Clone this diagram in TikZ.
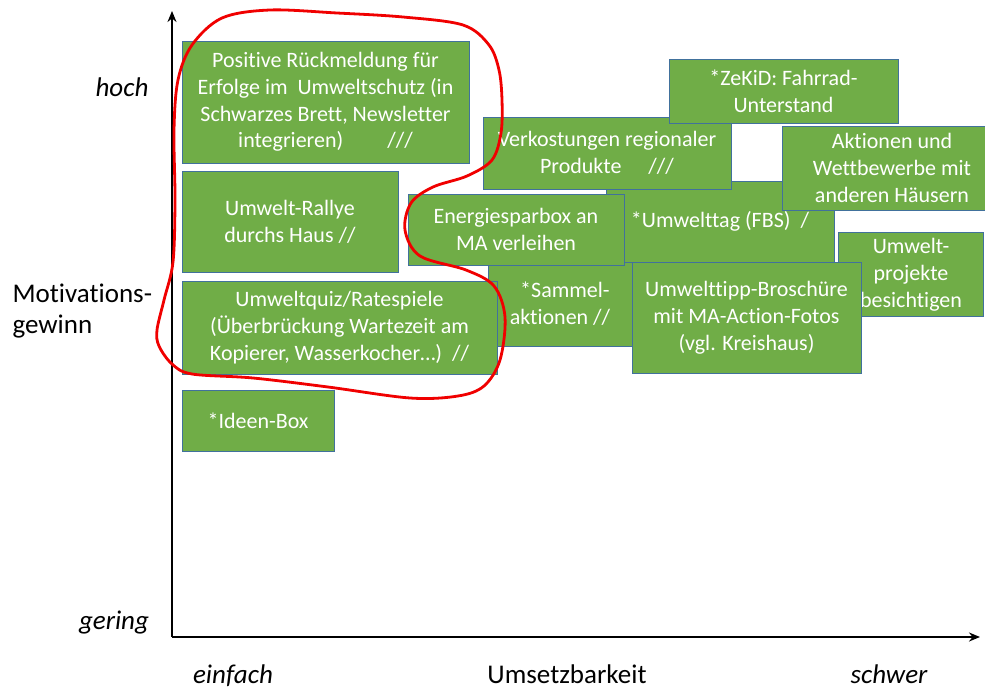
\documentclass[tikz,border=0pt]{standalone}
\usepackage{fontspec}
\setmainfont{Carlito}[Ligatures=CommonOff]
\usetikzlibrary{arrows.meta}
\definecolor{boxgreen}{HTML}{70AD47}
\definecolor{boxedge}{HTML}{41719C}
\definecolor{loopred}{HTML}{F00000}
\tikzset{
  gbox/.style={draw=boxedge, line width=0.9pt, fill=boxgreen, text=white, align=center,
    inner sep=0pt, outer sep=0pt, font=\fontsize{22}{26.8}\selectfont},
  axlabel/.style={text=black, font=\fontsize{27}{31}\selectfont\itshape},
  axtitle/.style={text=black, font=\fontsize{27}{31}\selectfont, align=left},
  bottomlabel/.style={inner sep=0pt, anchor=base},
  axisline/.style={line width=2.6pt, -{Stealth[length=11pt,width=9pt]}},
}
\begin{document}
\begin{tikzpicture}[x=1pt,y=-1pt]
\useasboundingbox (0,0) rectangle (985,690);
\clip (0,0) rectangle (985,690);
% axes
\coordinate (o) at (172,637);
\coordinate (ytop) at (172,11);
\coordinate (xend) at (980,637);
\draw[axisline] (o) -- (ytop);
\draw[axisline] (o) -- (xend);
% axis labels
\node[axlabel] (hoch) at (122,87) {hoch};
\node[axlabel] (gering) at (114,623) {gering};
\node[axlabel, bottomlabel] (einfach) at (233,683) {einfach};
\node[axlabel, bottomlabel] (schwer) at (889,683) {schwer};
\node[axtitle, anchor=west] (motiv) at (9,311) {Motivations-\\gewinn};
\node[axtitle, bottomlabel] (umsetz) at (567,683) {Umsetzbarkeit};
% boxes (bottom to top)
\node[gbox, minimum width=145pt, minimum height=84pt] (projekte) at (911,274.5) {Umwelt-\\projekte\\besichtigen};
\node[gbox, minimum width=228pt, minimum height=81pt] (umwelttag) at (720,221.5) {*Umwelttag (FBS)\ \ /};
\node[gbox, minimum width=144pt, minimum height=84pt] (sammel) at (560,304) {\ \ *Sammel-\\aktionen //};
\node[gbox, minimum width=248pt, minimum height=72pt] (verkost) at (607,153) {Verkostungen regionaler\\Produkte\quad\ ///};
\node[gbox, minimum width=229pt, minimum height=64pt] (zekid) at (783.5,91) {*ZeKiD: Fahrrad-\\Unterstand};
\node[gbox, minimum width=216pt, minimum height=71pt] (energie) at (516,229.5) {Energiesparbox an\\MA verleihen};
\node[gbox, minimum width=229pt, minimum height=111pt] (tipp) at (746.5,317.5) {Umwelttipp-Broschüre\\mit MA-Action-Fotos\\(vgl. Kreishaus)};
\node[gbox, minimum width=220pt, minimum height=84pt] (aktionen) at (892,168) {Aktionen und\\Wettbewerbe mit\\anderen Häusern};
\node[gbox, minimum width=287pt, minimum height=122pt] (positiv) at (325.5,102) {Positive Rückmeldung für\\Erfolge im \ Umweltschutz (in\\Schwarzes Brett, Newsletter\\integrieren)\qquad ///};
\node[gbox, minimum width=216pt, minimum height=101pt] (rallye) at (290,221.5) {Umwelt-Rallye\\durchs Haus //};
\node[gbox, minimum width=315pt, minimum height=93pt] (quiz) at (339.5,327.5) {Umweltquiz/Ratespiele\\(Überbrückung Wartezeit am\\Kopierer, Wasserkocher…)\ \ //};
\node[gbox, minimum width=152pt, minimum height=61pt] (ideen) at (258,420.5) {*Ideen-Box};
% red freehand loop
\draw[loopred, line width=2.8pt, line join=round] plot[smooth cycle, tension=0.55] coordinates {
 (270,10) (337,13) (403,17) (463,25) (489,45) (499,70) (502,100) (501,133)
 (492,160) (467,176) (433,187) (411,203) (405,230) (420,256) (466,270) (494,286)
 (505,317) (500,360) (484,386) (458,396) (410,398) (328,387) (253,378) (192,374)
 (172,364) (159,346) (157,330) (164,300) (173,262) (175,200) (174,130) (178,80)
 (192,45) (222,18)};
\end{tikzpicture}
\end{document}
